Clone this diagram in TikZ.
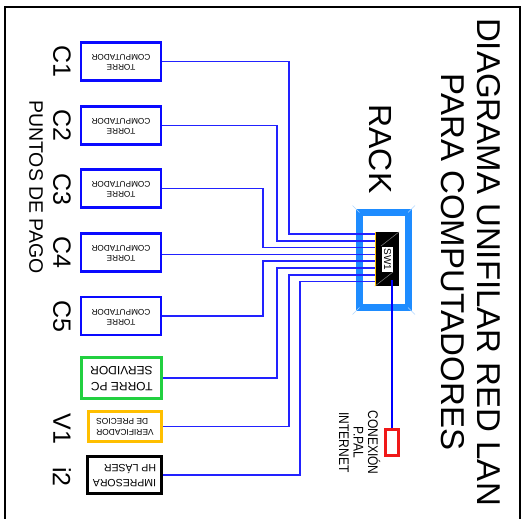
\documentclass[tikz,border=0pt]{standalone}
\usepackage{fontspec}
\setmainfont{Liberation Sans}
\usetikzlibrary{calc}
\definecolor{lnk}{HTML}{2222FF}
\definecolor{pcblue}{HTML}{0A0AFF}
\definecolor{srvgreen}{HTML}{22D040}
\definecolor{verorange}{HTML}{FFBF00}
\definecolor{rackblue}{HTML}{1E8CFF}
\definecolor{netred}{HTML}{F01818}
\newcommand\boxtxt[4]{\rotatebox{180}{\fontsize{#1}{#2}\selectfont\begin{tabular}{@{}#3@{}}#4\end{tabular}}}
\begin{document}
\begin{tikzpicture}[x=1pt,y=-1pt,
  pcbox/.style={draw=pcblue, line width=2.7pt, fill=white, minimum width=80pt, minimum height=38pt, inner sep=0pt},
  devbox/.style={line width=2.6pt, fill=white, inner sep=0pt},
  link/.style={draw=lnk, line width=1.5pt},
  biglabel/.style={rotate=-90, font=\fontsize{25}{28}\selectfont, inner sep=0pt},
  bevel/.style={draw=rackblue!35!white, line width=0.6pt}]
\useasboundingbox (0,0) rectangle (522,519);
% outer frame
\draw[line width=1.8pt] (5,519) -- (5,7) -- (520,7) -- (520,519);

% title and headings
\node[rotate=-90, align=center, font=\fontsize{33}{36}\selectfont, inner sep=0pt] (title) at (471,262) {DIAGRAMA UNIFILAR RED LAN\\PARA COMPUTADORES};
\node[rotate=-90, font=\fontsize{32}{34}\selectfont, inner sep=0pt] (rackt) at (381,149) {RACK};
\node[rotate=-90, font=\fontsize{19.5}{22}\selectfont, inner sep=0pt] (puntos) at (36,187) {PUNTOS DE PAGO};

% device boxes
\node[pcbox] (c1) at (121,61.5) {\boxtxt{8.2}{10}{c}{TORRE\\COMPUTADOR}};
\node[pcbox] (c2) at (121,125.5) {\boxtxt{8.2}{10}{c}{TORRE\\COMPUTADOR}};
\node[pcbox] (c3) at (121,188.5) {\boxtxt{8.2}{10}{c}{TORRE\\COMPUTADOR}};
\node[pcbox] (c4) at (121,252.5) {\boxtxt{8.2}{10}{c}{TORRE\\COMPUTADOR}};
\node[pcbox] (c5) at (121,316) {\boxtxt{8.2}{10}{c}{TORRE\\COMPUTADOR}};
\node[devbox, draw=srvgreen, minimum width=80pt, minimum height=41pt] (srv) at (121.5,378) {\boxtxt{12}{16}{l}{TORRE PC\\SERVIDOR}};
\node[devbox, draw=verorange, minimum width=73pt, minimum height=30pt] (ver) at (125,426.5) {\boxtxt{8.4}{11.5}{r}{VERIFICADOR\\DE PRECIOS}};
\node[devbox, draw=black, minimum width=74pt, minimum height=37pt] (prn) at (124.5,475) {\boxtxt{10.5}{15}{l}{IMPRESORA\\HP LÁSER}};

% labels
\node[biglabel] (l1) at (62,61) {C1};
\node[biglabel] (l2) at (62,125) {C2};
\node[biglabel] (l3) at (62,189) {C3};
\node[biglabel] (l4) at (62,252) {C4};
\node[biglabel] (l5) at (62,316) {C5};
\node[biglabel] (lv) at (62,429) {V1};
\node[biglabel] (li) at (62,477) {i2};

% rack frame
\node[draw=rackblue, line width=7pt, minimum width=48.5pt, minimum height=95pt, inner sep=0pt] (rack) at (383.75,260) {};
\draw[bevel] ($(rack.north west)+(-3.5,-3.5)$) -- ($(rack.north west)+(3.5,3.5)$);
\draw[bevel] ($(rack.north east)+(3.5,-3.5)$) -- ($(rack.north east)+(-3.5,3.5)$);
\draw[bevel] ($(rack.south west)+(-3.5,3.5)$) -- ($(rack.south west)+(3.5,-3.5)$);
\draw[bevel] ($(rack.south east)+(3.5,3.5)$) -- ($(rack.south east)+(-3.5,-3.5)$);

% ports on switch
\foreach \i/\yy in {1/234,2/240.8,3/247.6,4/254.4,5/261.2,6/268,7/274.8,8/281.6}
  \coordinate (p\i) at (375,\yy);

% connectors
\draw[link] (c1.east) -| ([xshift=-86pt]p1) -- (p1);
\draw[link] (c2.east) -| ([xshift=-98pt]p2) -- (p2);
\draw[link] (c3.east) -| ([xshift=-112pt]p3) -- (p3);
\draw[link] (c4.east |- p4) -- (p4);
\draw[link] (c5.east) -| ([xshift=-112pt]p5) -- (p5);
\draw[link] (srv.east) -| ([xshift=-98pt]p6) -- (p6);
\draw[link] (ver.east) -| ([xshift=-86pt]p7) -- (p7);
\draw[link] (prn.east) -| ([xshift=-75pt]p8) -- (p8);

% switch
\node[fill=black, minimum width=24pt, minimum height=54pt, inner sep=0pt] (sw) at (387,259) {};
\draw[gray, line width=0.5pt] (sw.north east) -- ($(sw.center)+(-6,-13)$);
\draw[gray, line width=0.5pt] (sw.south west) -- ($(sw.center)+(6,13)$);
\draw[draw=verorange, line width=1.4pt] ($(sw.north west)+(0.7,0)$) -- ($(sw.south west)+(0.7,0)$);
\node[fill=white, rotate=-90, minimum width=25pt, minimum height=11pt, inner sep=0pt, font=\fontsize{10}{11}\selectfont] (swl) at (387.5,259.5) {SW1};

% internet connection
\node[draw=netred, line width=2.4pt, fill=white, minimum width=13pt, minimum height=26pt, inner sep=0pt] (net) at (392,442.5) {};
\draw[draw=blue, line width=2.6pt] (net.north) -- ($(sw.south -| net.north)+(0,-6)$);
\node[rotate=-90, inner sep=0pt] (nettxt) at (357.5,442.5) {\scalebox{0.86}[1]{\fontsize{14}{14.5}\selectfont\begin{tabular}{@{}c@{}}CONEXIÓN\\P.PAL\\INTERNET\end{tabular}}};
\end{tikzpicture}
\end{document}
